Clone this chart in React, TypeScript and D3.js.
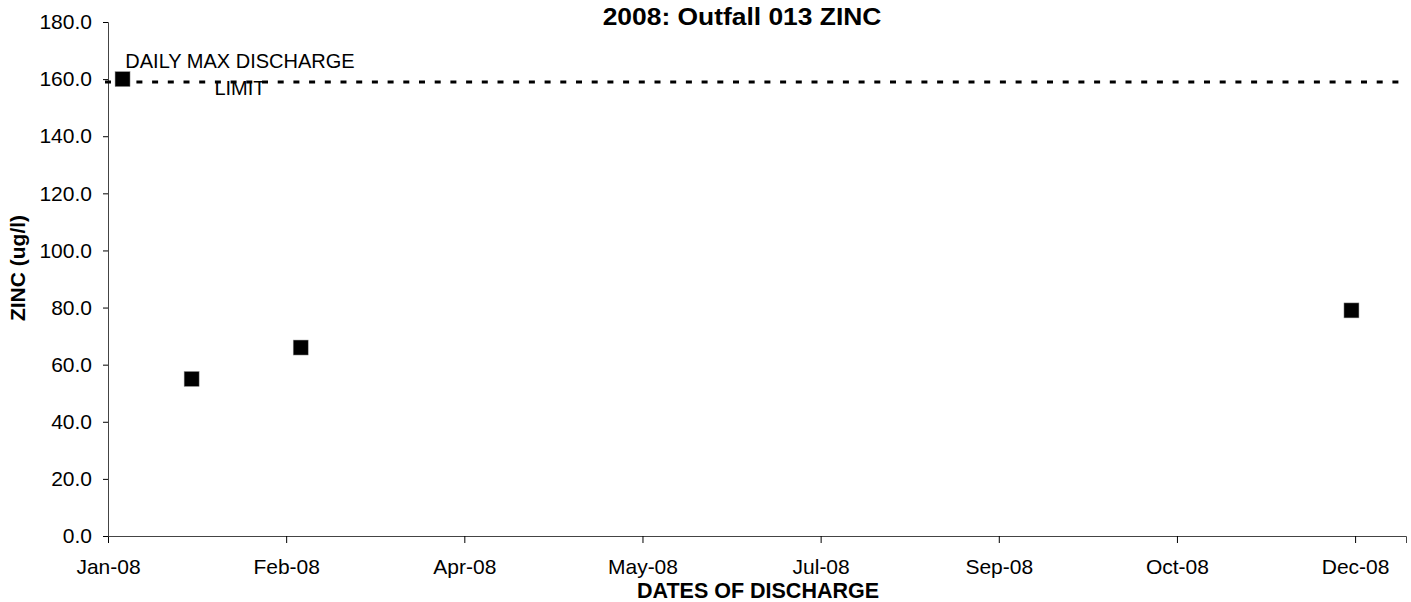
import * as d3 from "d3";
import { useEffect, useRef } from "react";

// sample dates and zinc values (ug/l)
const sampleDates = ["2008-01-05", "2008-01-24", "2008-02-23", "2008-12-08"];
const zincValues = [160, 55, 66, 79];

// daily max discharge limit
const limitValue = 159;
const limitLabel = ["DAILY MAX DISCHARGE", "LIMIT"];

// x axis ticks (Excel-style, every 49 days)
const xTickDates = [
  "2008-01-01", "2008-02-19", "2008-04-08", "2008-05-27",
  "2008-07-15", "2008-09-02", "2008-10-21", "2008-12-09",
];
const xDomain = ["2008-01-01", "2008-12-23"];
const yTicks = [0, 20, 40, 60, 80, 100, 120, 140, 160, 180];

const W = 1411;
const H = 602;
const margin = { top: 22, right: 5, bottom: 66, left: 108 };
const FONT = "'Liberation Sans', Arial, sans-serif";

const parse = d3.utcParse("%Y-%m-%d");

function AxisBottom({ scale, transform }) {
  const ref = useRef(null);
  useEffect(() => {
    if (ref.current) {
      const axis = d3.axisBottom(scale)
        .tickValues(xTickDates.map(parse))
        .tickFormat(d3.utcFormat("%b-%y"))
        .tickSizeOuter(0)
        .tickSize(7)
        .tickPadding(16);
      const g = d3.select(ref.current).call(axis);
      g.select(".domain").attr("stroke", "#444");
      g.selectAll(".tick line").attr("stroke", "#000");
      g.selectAll(".tick text")
        .attr("font-family", FONT)
        .attr("font-size", 21)
        .attr("fill", "#000");
    }
  }, [ref, scale]);
  return <g ref={ref} transform={transform} />;
}

function AxisLeft({ scale }) {
  const ref = useRef(null);
  useEffect(() => {
    if (ref.current) {
      const axis = d3.axisLeft(scale)
        .tickValues(yTicks)
        .tickFormat(d3.format(".1f"))
        .tickSizeOuter(0)
        .tickSize(5)
        .tickPadding(11);
      const g = d3.select(ref.current).call(axis);
      g.select(".domain").attr("stroke", "#444");
      g.selectAll(".tick line").attr("stroke", "#000");
      g.selectAll(".tick text")
        .attr("font-family", FONT)
        .attr("font-size", 21)
        .attr("fill", "#000");
    }
  }, [ref, scale]);
  return <g ref={ref} />;
}

export default function App() {
  const width = W - margin.left - margin.right;
  const height = H - margin.top - margin.bottom;

  const scaleX = d3.scaleUtc()
    .domain(xDomain.map(parse))
    .range([0, width]);
  const scaleY = d3.scaleLinear()
    .domain([0, 180])
    .range([height, 0]);

  const points = sampleDates.map((d, i) => ({ date: parse(d), value: zincValues[i] }));
  const sq = 15;
  const labelX = scaleX(parse("2008-01-01")) + 132;

  return (
    <svg width={W} height={H} style={{ position: "absolute", left: 0, top: 0, background: "#fff" }}>
      <text
        transform="translate(742, 25) scale(1.1, 1)"
        textAnchor="middle"
        fontFamily={FONT}
        fontWeight="bold"
        fontSize={24}
      >
        2008: Outfall 013 ZINC
      </text>
      <text
        transform={`translate(25, 268) rotate(-90)`}
        textAnchor="middle"
        fontFamily={FONT}
        fontWeight="bold"
        fontSize={21}
      >
        ZINC (ug/l)
      </text>
      <text x={758} y={598} textAnchor="middle" fontFamily={FONT} fontWeight="bold" fontSize={21.5}>
        DATES OF DISCHARGE
      </text>
      <g transform={`translate(${margin.left}, ${margin.top})`}>
        <AxisBottom scale={scaleX} transform={`translate(0, ${height})`} />
        <AxisLeft scale={scaleY} />
        <line
          x1={-3}
          x2={width}
          y1={scaleY(limitValue)}
          y2={scaleY(limitValue)}
          stroke="#000"
          strokeWidth={3}
          strokeDasharray="6 9.7"
        />
        {points.map((p, i) => (
          <rect
            key={`pt-${i}`}
            x={scaleX(p.date) - sq / 2}
            y={scaleY(p.value) - sq / 2}
            width={sq}
            height={sq}
            fill="#000"
            stroke="#999"
            strokeWidth={0.5}
          />
        ))}
        <text textAnchor="middle" fontFamily={FONT} fontSize={20} fill="#000">
          <tspan x={labelX} y={scaleY(limitValue) - 14}>{limitLabel[0]}</tspan>
          <tspan x={labelX} y={scaleY(limitValue) + 13}>{limitLabel[1]}</tspan>
        </text>
      </g>
    </svg>
  );
}
